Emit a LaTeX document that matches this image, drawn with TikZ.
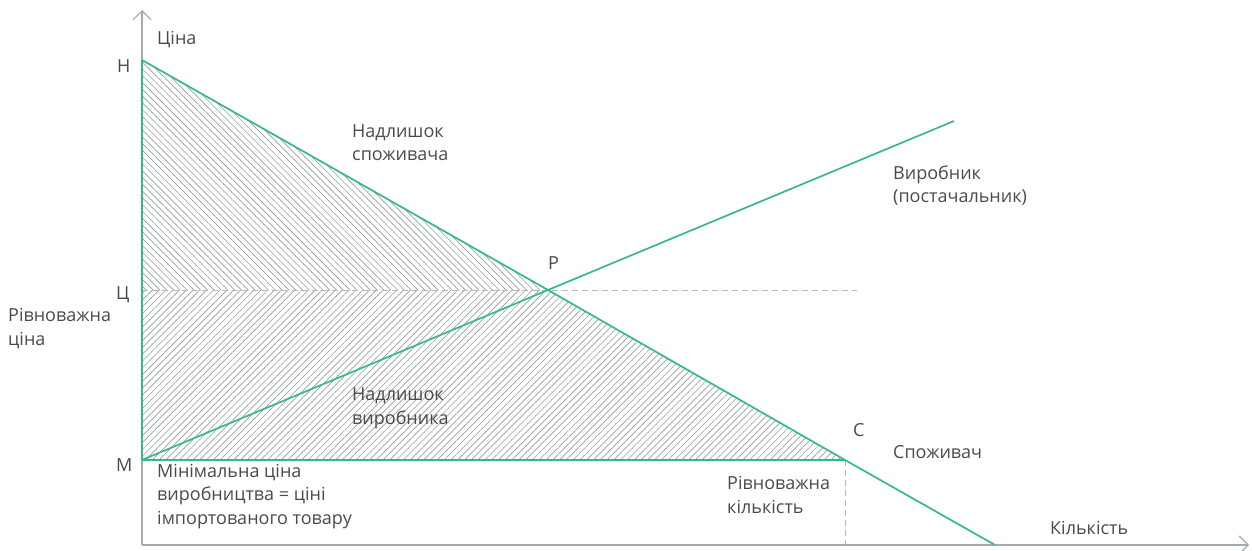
\documentclass[tikz,border=0pt]{standalone}
\usepackage{fontspec}
\setmainfont{Open Sans}
\usetikzlibrary{patterns.meta,arrows.meta}
\definecolor{grn}{HTML}{35B88A}
\definecolor{axisg}{HTML}{A3AAB0}
\definecolor{txt}{HTML}{4A4A4A}
\definecolor{hatchg}{HTML}{969CA2}
\definecolor{dashg}{HTML}{B5B9BD}
\begin{document}
\begin{tikzpicture}[x=1pt,y=-1pt,
 lbl/.style={font=\fontsize{18}{23.5}\selectfont, text=txt, inner sep=0pt, align=left, anchor=west},
 curve/.style={draw=grn, line width=1.7pt},
 axisline/.style={draw=axisg, line width=1.1pt, -{Straight Barb[length=9pt,width=18pt,line width=1.1pt]}},
 guide/.style={draw=dashg, line width=1pt, dash pattern=on 6pt off 4pt},
 hatchdown/.style={pattern={Lines[angle=-45,distance=4.8pt,line width=0.65pt]}, pattern color=hatchg},
 hatchup/.style={pattern={Lines[angle=45,distance=4.8pt,line width=0.65pt]}, pattern color=hatchg}]
\useasboundingbox (0,0) rectangle (1252,551);
% key points
\coordinate (O) at (142,545);
\coordinate (Ytop) at (142,10);
\coordinate (Xend) at (1249,545);
\coordinate (H) at (142,60);
\coordinate (Ts) at (142,290);
\coordinate (M) at (142,460);
\coordinate (P) at (548,290);
\coordinate (C) at (845,460);
\coordinate (Dend) at (995,545);
\coordinate (Send) at (954,121);
\coordinate (Gend) at (857,290);
\coordinate (Qx) at (845,545);
% hatched areas
\fill[hatchdown] (H) -- (P) -- (Ts) -- cycle;
\fill[hatchup] (Ts) -- (P) -- (C) -- (M) -- cycle;
% guides
\draw[guide] (Ts) -- (Gend);
\draw[guide] (C) -- (Qx);
% axes
\draw[axisline] (O) -- (Ytop);
\draw[axisline] (O) -- (Xend);
% curves
\draw[curve] (H) -- (M);
\draw[curve] (M) -- (C);
\draw[curve] (H) -- (P) -- (C) -- (Dend);
\draw[curve] (M) -- (P) -- (Send);
% labels
\node[lbl] (lprice) at (157,40) {Ціна};
\node[lbl] (lH) at (117,66) {Н};
\node[lbl] (lTs) at (116,295) {Ц};
\node[lbl] (leqp) at (8,328.5) {Рівноважна\\ціна};
\node[lbl] (lM) at (116,465) {М};
\node[lbl] (lcs) at (352,142.5) {Надлишок\\споживача};
\node[lbl] (lprod) at (893,185.5) {Виробник\\(постачальник)};
\node[lbl] (lP) at (548,263) {Р};
\node[lbl] (lps) at (352,408) {Надлишок\\виробника};
\node[lbl] (lC) at (853,430) {С};
\node[lbl] (lcons) at (893,452) {Споживач};
\node[lbl] (lmin) at (157,496.5) {Мінімальна ціна\\виробництва = ціні\\імпортованого товару};
\node[lbl] (leqq) at (727,495) {Рівноважна\\кількість};
\node[lbl] (lqty) at (1050,528) {Кількість};
\end{tikzpicture}
\end{document}
